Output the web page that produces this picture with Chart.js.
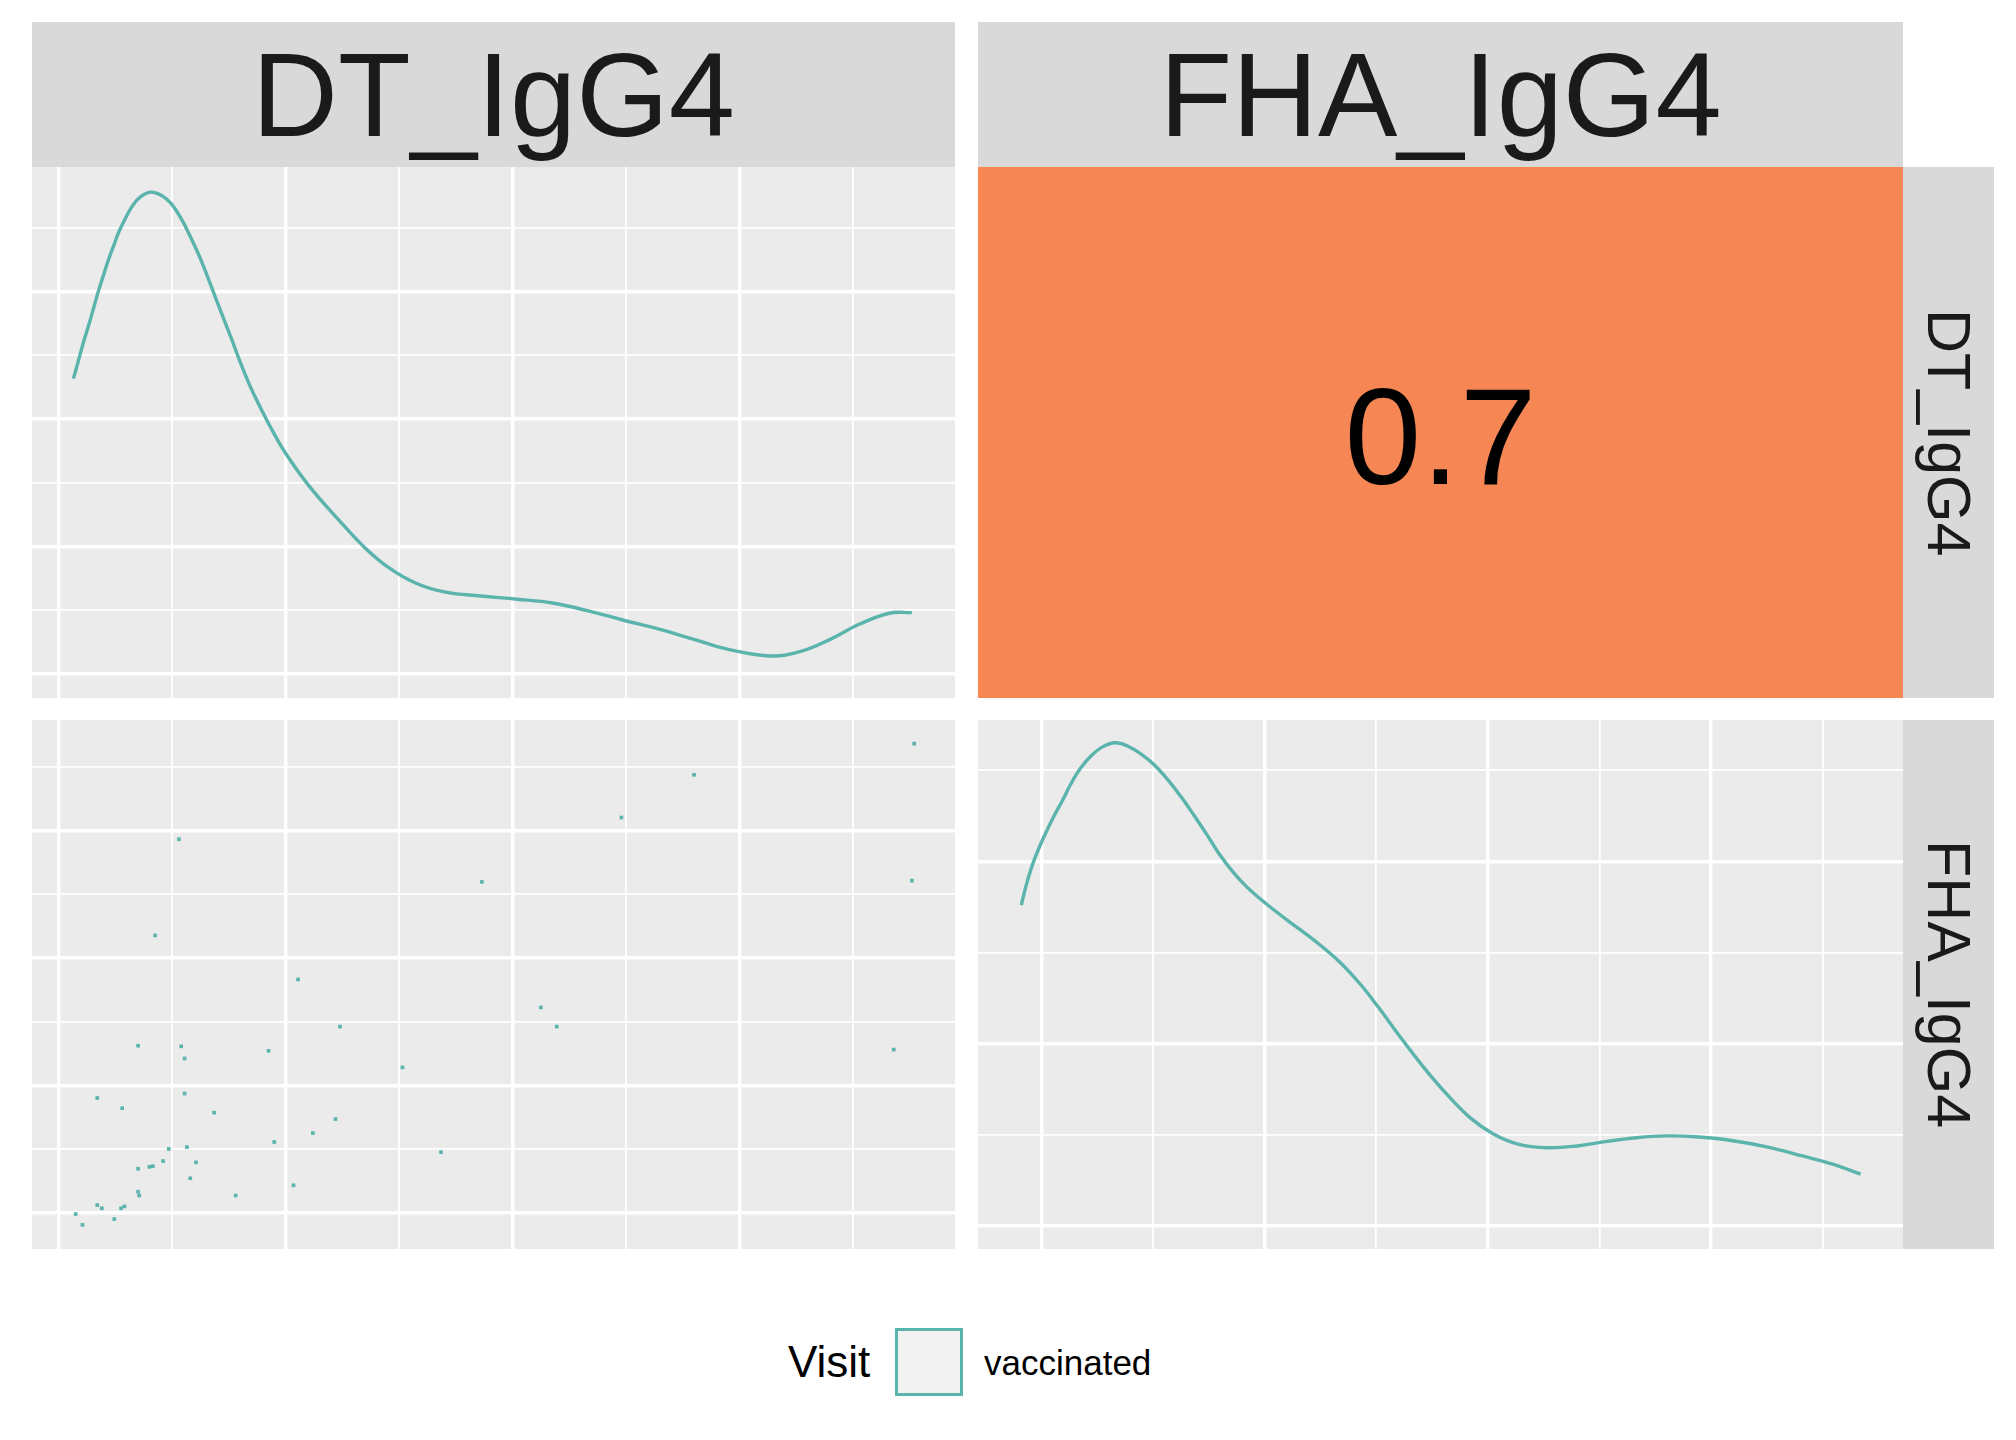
<!DOCTYPE html>
<html>
<head>
<meta charset="utf-8">
<script src="https://cdn.jsdelivr.net/npm/chart.js@4"></script>
<style>
  body { margin: 0; background: #fff; font-family: "Liberation Sans", Arial, sans-serif; }
  #page { position: relative; width: 2016px; height: 1440px; }
  .box { position: absolute; display: flex; align-items: center; justify-content: center; line-height: 1; }
  .head { background: #D9D9D9; color: #1A1A1A; font-size: 119px; }
  .strip { background: #D9D9D9; color: #1A1A1A; font-size: 61px; writing-mode: vertical-rl; }
  canvas { position: absolute; }
  .leg { position: absolute; color: #000; white-space: nowrap; }
</style>
</head>
<body>
<div id="page">
  <div class="box head" id="head1" style="left:32px;top:22px;width:923px;height:145px;"></div>
  <div class="box head" id="head2" style="left:978px;top:22px;width:925px;height:145px;"></div>
  <canvas id="dtDensity" width="923" height="531" style="left:32px;top:167px;"></canvas>
  <div class="box" id="corrBox" style="left:978px;top:167px;width:925px;height:531px;background:#F68654;font-size:138px;color:#000;padding-top:6px;box-sizing:border-box;"></div>
  <div class="box strip" id="strip1" style="left:1903px;top:167px;width:91px;height:531px;"></div>
  <canvas id="scatter" width="923" height="529" style="left:32px;top:720px;"></canvas>
  <canvas id="fhaDensity" width="925" height="529" style="left:978px;top:720px;"></canvas>
  <div class="box strip" id="strip2" style="left:1903px;top:720px;width:91px;height:529px;"></div>
  <div class="leg" style="left:788px;top:1337px;font-size:44px;">Visit</div>
  <div class="leg" style="left:895px;top:1328px;width:62px;height:62px;background:#F2F2F2;border:3px solid #5AB4AC;"></div>
  <div class="leg" id="legLabel" style="left:984px;top:1343px;font-size:35px;"></div>
</div>
<script>
// variable names and group
const variables = ["DT_IgG4", "FHA_IgG4"];
const groupName = "Visit";
const groupLevels = ["vaccinated"];
const corrValue = "0.7";

// density of DT_IgG4 (grid units)
const dtDensX = [0.13, 0.18, 0.22, 0.27, 0.31, 0.35, 0.40, 0.44, 0.49, 0.53, 0.59, 0.65, 0.72, 0.81,
  0.90, 0.99, 1.08, 1.16, 1.25, 1.34, 1.43, 1.52, 1.60, 1.69, 1.78, 1.87, 2.00, 2.21, 2.47, 2.68,
  2.89, 3.15, 3.41, 3.72, 4.04, 4.35, 4.66, 4.98, 5.29, 5.60, 5.91, 6.28, 6.54, 6.80, 7.06, 7.32, 7.52];
const dtDensY = [4.63, 4.95, 5.21, 5.50, 5.75, 6.00, 6.28, 6.50, 6.74, 6.93, 7.15, 7.34, 7.48, 7.555,
  7.51, 7.38, 7.14, 6.86, 6.51, 6.10, 5.68, 5.27, 4.89, 4.50, 4.17, 3.86, 3.46, 2.94, 2.41, 2.01,
  1.69, 1.42, 1.28, 1.22, 1.17, 1.11, 0.99, 0.84, 0.70, 0.54, 0.38, 0.28, 0.35, 0.54, 0.78, 0.95, 0.96];

// density of FHA_IgG4
const fhaDensX = [-0.18, -0.14, -0.10, -0.06, -0.01, 0.05, 0.11, 0.19, 0.26, 0.35, 0.44, 0.54,
  0.66, 0.78, 0.90, 1.01, 1.13, 1.25, 1.37, 1.49, 1.60, 1.72, 1.84, 1.96, 2.05, 2.22, 2.46, 2.67,
  2.86, 3.02, 3.20, 3.42, 3.63, 3.84, 4.05, 4.27, 4.53, 4.80, 5.07, 5.33, 5.60, 5.86, 6.18, 6.50,
  6.82, 7.09, 7.34];
const fhaDensY = [3.52, 3.72, 3.89, 4.03, 4.18, 4.34, 4.49, 4.67, 4.84, 5.02, 5.15, 5.25,
  5.30, 5.26, 5.17, 5.06, 4.90, 4.71, 4.50, 4.28, 4.07, 3.88, 3.72, 3.59, 3.50, 3.34, 3.12, 2.90,
  2.65, 2.40, 2.10, 1.75, 1.45, 1.19, 1.01, 0.90, 0.86, 0.88, 0.93, 0.97, 0.99, 0.98, 0.94, 0.87,
  0.77, 0.68, 0.57];

// scatter DT_IgG4 (x) vs FHA_IgG4 (y)
const scatterDT = [7.54, 5.60, 4.96, 1.06, 3.73, 7.52, 0.85, 2.11, 4.25, 2.48, 4.39, 0.70, 1.08,
  1.85, 7.36, 1.11, 3.03, 1.11, 0.34, 0.56, 1.37, 2.44, 2.24, 1.90, 1.13, 0.97, 3.37, 0.92, 1.21,
  0.83, 0.80, 0.70, 1.16, 2.07, 0.70, 0.71, 1.56, 0.34, 0.38, 0.58, 0.55, 0.15, 0.49, 0.21];
const scatterFHA = [7.36, 6.87, 6.20, 5.86, 5.19, 5.21, 4.35, 3.66, 3.22, 2.92, 2.92, 2.62, 2.61,
  2.54, 2.56, 2.42, 2.28, 1.87, 1.80, 1.64, 1.57, 1.47, 1.25, 1.11, 1.03, 1.00, 0.95, 0.81, 0.79,
  0.73, 0.72, 0.69, 0.54, 0.43, 0.33, 0.27, 0.27, 0.12, 0.07, 0.10, 0.07, -0.02, -0.10, -0.19];

const TEAL = "#5AB4AC";

document.getElementById("head1").textContent = variables[0];
document.getElementById("head2").textContent = variables[1];
document.getElementById("strip1").textContent = variables[0];
document.getElementById("strip2").textContent = variables[1];
document.getElementById("corrBox").textContent = corrValue;
document.getElementById("legLabel").textContent = groupLevels[0];

// grey panel background
const panelBg = {
  id: "panelBg",
  beforeDraw(chart) {
    const { ctx, chartArea } = chart;
    ctx.save();
    ctx.fillStyle = "#EBEBEB";
    ctx.fillRect(chartArea.left, chartArea.top, chartArea.right - chartArea.left, chartArea.bottom - chartArea.top);
    ctx.restore();
  }
};

function gridAxis(min, max) {
  return {
    type: "linear",
    min: min,
    max: max,
    ticks: { display: false, stepSize: 1, includeBounds: false },
    grid: {
      color: "#FFFFFF",
      drawTicks: false,
      lineWidth: (ctx) => (Math.round(ctx.tick.value) % 2 === 0 ? 3.4 : 1.8)
    },
    border: { display: false }
  };
}

function makePanel(id, dataset, xr, yr) {
  return new Chart(document.getElementById(id), {
    type: "scatter",
    data: { datasets: [dataset] },
    options: {
      responsive: false,
      devicePixelRatio: 1,
      animation: false,
      layout: { padding: 0, autoPadding: false },
      plugins: { legend: { display: false }, tooltip: { enabled: false } },
      scales: { x: gridAxis(xr[0], xr[1]), y: gridAxis(yr[0], yr[1]) }
    },
    plugins: [panelBg]
  });
}

function curve(xs, ys) {
  return {
    data: xs.map((x, i) => ({ x: x, y: ys[i] })),
    showLine: true,
    borderColor: TEAL,
    borderWidth: 3.4,
    pointRadius: 0,
    tension: 0.4
  };
}

makePanel("dtDensity", curve(dtDensX, dtDensY), [-0.235, 7.9], [-0.38, 7.95]);
makePanel("fhaDensity", curve(fhaDensX, fhaDensY), [-0.568, 7.72], [-0.25, 5.55]);
makePanel("scatter", {
  data: scatterDT.map((x, i) => ({ x: x, y: scatterFHA[i] })),
  pointStyle: "rect",
  pointRadius: 2.6,
  borderWidth: 0,
  backgroundColor: TEAL
}, [-0.235, 7.9], [-0.569, 7.73]);
</script>
</body>
</html>
